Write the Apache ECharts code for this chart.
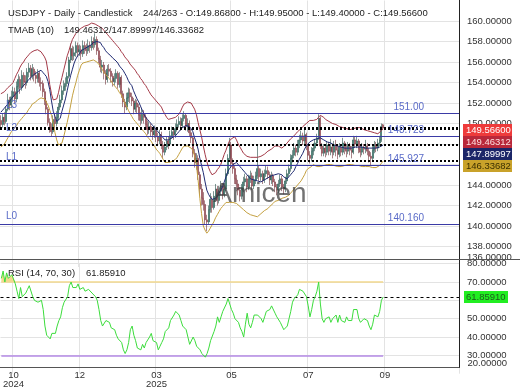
<!DOCTYPE html>
<html><head><meta charset="utf-8">
<script src="https://cdn.jsdelivr.net/npm/echarts@6/dist/echarts.min.js"></script>
<style>html,body{margin:0;padding:0;background:#fff}#c{width:520px;height:390px}</style>
</head><body><div id="c"></div>
<script>
// ---------- data ----------
const slotCount = 263;
const tickIndex = [7, 45, 89, 132, 176, 220];
const tickLabels = ['10\n2024', '12', '03\n2025', '05', '07', '09'];

const openP = [
150.3,149.9,150.6,150.2,151.4,152.3,151.8,152.6,153.1,152.4,
153.6,154.3,153.5,154.7,154.1,154.0,155.0,155.4,154.6,155.3,
154.7,154.4,154.9,154.0,153.9,153.1,152.2,151.4,150.1,149.6,
149.2,150.4,150.0,150.6,151.6,152.3,153.2,153.6,153.9,154.6,
156.2,157.3,156.6,156.9,157.6,157.0,157.2,156.8,157.6,157.3,
157.1,157.6,157.4,158.0,157.7,158.2,157.1,156.3,155.5,155.7,
154.9,154.3,155.3,155.1,154.6,154.1,154.4,154.9,153.8,154.5,
152.9,152.1,151.6,152.5,153.0,152.6,152.2,151.4,152.0,151.6,
150.8,150.3,150.9,150.6,149.9,149.4,149.7,149.2,148.9,149.3,
148.7,148.3,148.9,147.9,147.2,147.7,148.3,148.0,148.8,149.2,
148.9,149.5,149.9,150.2,149.8,150.5,150.8,149.7,150.0,149.1,
148.6,147.1,146.2,146.6,145.0,143.6,142.7,142.1,140.6,140.4,
141.6,142.6,141.8,142.9,143.6,142.5,143.4,143.9,143.1,143.6,
145.1,146.6,147.9,146.1,145.6,144.6,144.1,143.5,142.9,143.6,
144.3,144.6,143.8,144.6,144.9,143.9,144.5,144.9,145.6,144.8,
145.1,144.5,145.1,145.4,145.0,144.5,144.9,144.3,143.8,143.5,
144.1,144.6,143.8,143.6,144.4,145.1,145.6,146.6,146.9,147.6,
147.2,147.9,148.4,148.8,148.3,148.9,147.8,146.9,146.6,147.3,
147.6,148.1,148.6,150.5,147.8,147.1,147.6,147.2,147.9,147.3,
147.7,147.2,147.9,147.4,147.0,147.7,147.2,148.1,147.5,147.3,
147.8,147.4,147.2,148.4,148.0,148.3,147.5,147.2,147.7,147.5,
147.8,147.3,146.8,146.6,147.4,147.9,147.6,148.1,148.4,149.868];
const closeP = [
149.9,150.6,150.2,151.4,152.3,151.8,152.6,153.1,152.4,153.6,
154.3,153.5,154.7,154.1,154.0,155.0,155.4,154.6,155.3,154.7,
154.4,154.9,154.0,153.9,153.1,152.2,151.4,150.1,149.6,149.2,
150.4,150.0,150.6,151.6,152.3,153.2,153.6,153.9,154.6,156.2,
157.3,156.6,156.9,157.6,157.0,157.2,156.8,157.6,157.3,157.1,
157.6,157.4,158.0,157.7,158.2,157.1,156.3,155.5,155.7,154.9,
154.3,155.3,155.1,154.6,154.1,154.4,154.9,153.8,154.5,152.9,
152.1,151.6,152.5,153.0,152.6,152.2,151.4,152.0,151.6,150.8,
150.3,150.9,150.6,149.9,149.4,149.7,149.2,148.9,149.3,148.7,
148.3,148.9,147.9,147.2,147.7,148.3,148.0,148.8,149.2,148.9,
149.5,149.9,150.2,149.8,150.5,150.8,149.7,150.0,149.1,148.6,
147.1,146.2,146.6,145.0,143.6,142.7,142.1,140.6,140.4,141.6,
142.6,141.8,142.9,143.6,142.5,143.4,143.9,143.1,143.6,145.1,
146.6,147.9,146.1,145.6,144.6,144.1,143.5,142.9,143.6,144.3,
144.6,143.8,144.6,144.9,143.9,144.5,144.9,145.6,144.8,145.1,
144.5,145.1,145.4,145.0,144.5,144.9,144.3,143.8,143.5,144.1,
144.6,143.8,143.6,144.4,145.1,145.6,146.6,146.9,147.6,147.2,
147.9,148.4,148.8,148.3,148.9,147.8,146.9,146.6,147.3,147.6,
148.1,148.6,150.5,147.8,147.1,147.6,147.2,147.9,147.3,147.7,
147.2,147.9,147.4,147.0,147.7,147.2,148.1,147.5,147.3,147.8,
147.4,147.2,148.4,148.0,148.3,147.5,147.2,147.7,147.5,147.8,
147.3,146.8,146.6,147.4,147.9,147.6,148.1,148.4,149.7,149.566];
const lowP = [
149.5,149.6,149.8,150.0,151.2,151.3,151.5,152.2,151.9,152.1,
153.3,152.9,153.2,153.6,153.4,153.7,154.5,154.2,154.3,154.1,
153.9,154.0,153.6,153.2,152.6,151.8,150.9,149.8,149.1,148.7,
149.0,149.5,149.7,150.3,151.3,152.0,152.8,153.2,153.6,154.4,
155.9,156.1,156.2,156.5,156.5,156.6,156.2,156.5,156.8,156.6,
156.8,156.9,157.1,157.2,157.4,156.7,155.9,155.0,154.9,154.3,
153.8,154.0,154.6,154.0,153.6,153.7,154.0,153.4,153.5,152.5,
151.6,151.0,151.3,152.1,152.0,151.7,150.9,151.1,151.0,150.3,
149.8,150.0,150.0,149.4,148.9,149.0,148.7,148.4,148.6,148.2,
147.8,148.0,147.5,146.6,146.9,147.4,147.5,147.8,148.5,148.4,
148.6,149.2,149.6,149.3,149.6,150.2,149.3,149.2,148.7,148.1,
146.7,145.7,145.5,144.5,143.0,142.0,141.5,140.1,139.5,140.1,
141.3,141.3,141.6,142.5,142.0,142.2,143.0,142.6,142.8,143.4,
144.9,146.3,145.7,145.1,144.1,143.6,143.0,142.4,142.6,143.3,
143.9,143.3,143.5,144.2,143.5,143.6,144.1,144.6,144.4,144.4,
144.1,144.2,144.8,144.6,144.0,144.1,143.9,143.3,143.0,143.2,
143.8,143.4,143.1,143.3,144.1,144.8,145.3,146.2,146.6,146.8,
146.9,147.6,148.1,147.9,148.0,147.4,146.4,146.1,146.3,146.9,
147.3,147.8,148.4,147.5,146.8,146.8,146.7,146.9,146.9,146.9,
146.6,146.9,146.8,146.5,146.7,146.8,146.9,147.0,146.7,147.0,
146.9,146.6,147.0,147.6,147.6,147.1,146.7,146.9,147.0,147.1,
146.9,146.2,145.9,146.3,147.1,147.2,147.3,147.8,148.2,149.40];
const highP = [
150.8,151.0,151.1,151.7,152.9,152.6,153.2,153.6,153.5,154.1,
154.8,154.6,155.2,155.0,154.7,155.4,155.9,155.7,155.8,155.5,
155.1,155.3,155.1,154.5,154.2,153.4,152.5,151.6,150.5,150.0,
150.8,150.9,151.2,152.0,152.8,153.7,154.2,154.5,155.0,156.5,
157.8,157.6,157.5,158.0,157.9,157.7,157.6,158.1,158.0,157.8,
158.2,158.0,158.5,158.4,158.8,158.5,157.4,156.6,156.2,156.0,
155.2,155.7,155.8,155.4,154.9,154.9,155.3,155.1,155.0,154.7,
153.2,152.4,153.0,153.5,153.4,153.0,152.5,152.4,152.3,151.9,
151.1,151.4,151.3,150.9,150.3,150.2,150.0,149.6,149.8,149.6,
149.1,149.4,149.2,148.3,148.2,148.7,148.7,149.3,149.7,149.6,
150.0,150.4,150.7,150.6,150.9,151.2,151.0,150.5,150.3,149.5,
148.8,147.5,147.1,146.9,145.3,144.1,143.3,142.5,141.1,142.0,
143.2,142.9,143.4,144.1,143.9,143.9,144.4,144.2,144.2,145.6,
147.0,148.6,148.2,146.6,145.9,145.0,144.5,143.8,144.1,144.8,
145.1,144.9,145.0,145.4,145.2,144.9,145.3,148.0,145.9,145.6,
145.4,145.5,145.9,145.8,145.3,145.3,145.1,144.6,144.1,144.5,
145.0,144.9,144.1,144.8,145.5,146.0,147.0,147.4,148.1,147.9,
148.4,148.9,149.3,149.1,149.4,149.1,148.0,147.3,147.7,148.1,
148.5,149.0,150.9,150.7,148.1,148.0,148.0,148.3,148.2,148.5,
148.0,148.3,148.4,147.8,148.1,148.0,148.6,148.3,148.0,148.2,
148.1,147.8,148.8,148.7,148.8,148.5,147.9,148.1,148.0,148.4,
148.1,147.6,147.2,147.8,148.3,148.2,148.5,148.8,150.0,149.95];

const tmaUpper = [
152.9,153.0,153.1,153.3,153.5,153.6,153.8,154.0,154.4,154.8,
155.1,155.5,155.8,156.0,156.3,156.5,156.7,156.9,157.0,157.1,
157.2,157.2,157.1,157.0,156.9,156.5,156.1,155.1,153.8,152.9,
152.3,152.3,152.4,153.0,153.8,154.5,155.2,155.9,156.6,157.1,
157.7,158.2,158.5,158.8,159.0,159.1,159.3,159.4,159.5,159.6,
159.6,159.7,159.8,159.8,159.7,159.6,159.5,159.5,159.3,159.1,
158.9,158.7,158.5,158.3,158.1,157.9,157.7,157.5,157.3,157.0,
156.8,156.5,156.3,156.1,155.8,155.6,155.4,155.2,154.9,154.7,
154.4,154.2,153.9,153.7,153.4,153.1,152.8,152.6,152.4,152.2,
152.0,151.8,151.6,151.2,150.9,150.6,150.4,150.4,150.5,150.5,
150.6,150.6,150.9,151.2,151.6,151.9,152.0,152.1,152.2,152.0,
151.7,151.4,150.9,150.1,149.4,148.7,147.8,147.0,146.3,145.7,
145.3,145.0,145.0,145.2,145.5,145.7,146.0,146.5,147.0,147.4,
147.9,148.3,148.5,148.6,148.7,148.4,148.0,147.7,147.4,147.1,
147.0,146.8,146.7,146.7,146.7,146.7,146.7,146.7,146.7,146.8,
146.9,147.0,147.1,147.3,147.4,147.5,147.6,147.8,147.9,147.8,
147.7,147.6,147.7,147.9,148.1,148.3,148.5,148.6,148.8,149.0,
149.2,149.3,149.5,149.7,149.8,150.0,150.1,150.3,150.3,150.3,
150.4,150.4,150.6,150.8,150.7,150.6,150.4,150.3,150.2,150.1,
150.0,149.9,149.9,149.8,149.7,149.7,149.6,149.6,149.5,149.5,
149.4,149.4,149.5,149.5,149.6,149.6,149.6,149.5,149.4,149.4,
149.3,149.2,149.2,149.1,149.1,149.0,149.0,149.1,149.3,149.46312];
const tmaMid = [
151.1,151.3,151.5,151.7,151.9,152.2,152.4,152.6,152.8,153.0,
153.1,153.3,153.5,153.6,153.9,154.1,154.3,154.4,154.6,154.8,
154.9,155.0,155.1,155.2,155.0,154.8,154.6,154.1,153.3,152.2,
151.2,150.7,150.2,150.3,150.5,151.2,151.8,152.4,153.2,154.0,
154.7,155.3,155.9,156.3,156.6,156.8,157.1,157.2,157.3,157.4,
157.5,157.6,157.7,157.9,158.0,158.0,157.9,157.9,157.6,157.4,
157.1,156.9,156.8,156.6,156.4,156.3,156.1,155.9,155.6,155.4,
155.2,154.9,154.6,154.2,153.9,153.7,153.2,152.8,152.4,152.1,
151.7,151.3,150.9,150.6,150.4,150.2,150.0,149.8,149.6,149.4,
149.3,149.0,148.8,148.6,148.4,148.3,148.4,148.5,148.6,148.7,
148.8,149.0,149.2,149.4,149.6,149.7,149.8,149.8,149.7,149.5,
149.2,148.6,148.1,147.5,146.6,145.9,145.2,144.3,143.5,143.1,
142.8,142.6,142.5,142.7,142.9,143.2,143.5,143.8,144.3,144.8,
145.3,145.6,145.8,146.0,146.1,146.2,146.0,145.8,145.6,145.5,
145.2,145.0,144.8,144.6,144.5,144.5,144.4,144.4,144.3,144.3,
144.4,144.5,144.6,144.7,144.8,144.9,145.0,145.0,145.1,145.1,
145.1,145.0,144.8,144.7,144.6,144.8,145.0,145.2,145.4,145.8,
146.1,146.5,146.8,147.1,147.5,147.8,148.0,148.2,148.3,148.4,
148.5,148.5,148.6,148.6,148.5,148.4,148.3,148.2,148.2,148.1,
148.0,147.9,147.8,147.8,147.7,147.7,147.7,147.6,147.6,147.6,
147.6,147.6,147.6,147.7,147.7,147.7,147.7,147.7,147.7,147.6,
147.6,147.6,147.6,147.6,147.6,147.6,147.7,147.7,147.8,147.89997];
const tmaLower = [
147.7,147.8,148.0,148.3,148.6,148.9,149.2,149.4,149.6,149.8,
150.1,150.3,150.5,150.7,150.9,151.1,151.4,151.6,151.9,152.0,
152.1,152.3,152.4,152.5,152.6,152.4,152.1,151.8,151.3,150.8,
150.0,149.1,148.4,147.9,147.9,148.1,148.7,149.4,150.1,150.9,
151.8,152.7,153.4,154.0,154.7,155.2,155.7,155.9,155.9,156.0,
156.0,156.1,156.1,156.2,156.2,156.0,155.8,155.6,155.3,155.0,
154.8,154.6,154.4,154.2,153.9,153.7,153.5,153.3,153.0,152.8,
152.4,152.0,151.7,151.3,151.0,150.7,150.4,150.2,150.0,149.8,
149.6,149.4,149.2,149.0,148.7,148.5,148.3,148.0,147.8,147.5,
147.3,147.1,146.8,146.5,146.2,146.1,146.2,146.3,146.3,146.4,
146.5,146.7,147.0,147.3,147.6,147.8,147.9,147.8,147.7,147.6,
147.4,146.8,146.0,144.5,142.7,141.2,140.0,139.6,139.3,139.5,
139.8,140.1,140.4,140.8,141.1,141.4,141.7,141.9,142.1,142.3,
142.3,142.3,142.3,142.3,142.2,142.2,142.1,141.9,141.8,141.6,
141.5,141.3,141.2,141.1,141.0,141.0,140.9,140.9,141.0,141.2,
141.3,141.5,141.6,141.7,141.9,142.0,142.2,142.4,142.5,142.5,
142.6,142.7,142.7,142.8,142.8,143.0,143.2,143.4,143.6,143.8,
144.0,144.2,144.4,144.7,145.0,145.4,145.6,145.7,145.8,146.0,
145.9,145.8,145.8,145.8,145.9,145.9,146.0,146.0,146.0,146.0,
145.9,145.9,145.8,145.8,145.8,145.8,145.9,145.9,145.9,146.0,
146.0,146.0,146.0,145.9,145.9,145.9,145.8,145.8,145.8,145.8,
145.8,145.8,145.7,145.7,145.7,145.7,145.8,145.9,146.1,146.33682];

const rsi = [
72,76,70,75,72,71,74,75,69,65,
61,67,62,61,64,66,68,69,62,60,
60,59,58,60,55,46,41,40,39,42,
43,42,46,49,51,56,59,60,62,68,
70,67,68,67,69,66,67,67,65,65,
66,65,64,63,62,60,55,49,46,47,
49,50,48,45,45,44,41,39,38,37,
33,31,33,37,44,46,41,38,34,34,
33,36,34,37,36,40,42,38,39,37,
33,35,37,39,43,42,45,49,48,52,
54,54,52,49,46,45,44,40,36,37,
40,38,35,34,33,31,30,29,31,34,
38,39,43,46,51,48,51,54,53,58,
61,58,55,53,50,51,48,45,43,40,
47,53,47,45,48,52,53,52,51,50,
48,51,54,53,55,57,56,53,51,50,
48,46,44,44,46,50,54,59,61,60,
63,66,66,65,66,62,57,51,55,60,
62,65,70,58,50,48,50,49,51,48,
50,49,52,48,52,49,50,48,51,49,
50,49,55,54,55,50,48,49,50,50,
49,46,44,47,52,53,51,54,60,61.8591];
const rsiOverbought = [72,76,70,75,72,71,74,75,70];

const levelValues = [151.00, 148.723, 145.927, 140.160];
const levelNames = ['L3', 'L2', 'L1', 'L0'];
const levelTexts = ['151.00', '148.723', '145.927', '140.160'];

const lastClose = 149.566;
const bandLast = [149.46312, 147.89997, 146.33682];
const rsiLast = 61.8591;
const rsiLevels = [70, 30];
const rsiAxisMin = 20;

const headerMain = 'USDJPY - Daily - Candlestick';
const headerOHLC = '244/263 - O:149.86800 - H:149.95000 - L:149.40000 - C:149.56600';
const headerTma = 'TMAB (10)';
const headerTmaVals = '149.46312/147.89997/146.33682';
const headerRsi = 'RSI (14, 70, 30)';
const headerRsiVal = '61.85910';
const watermark = 'Amicen';

// ---------- chart ----------
const FONT = '"Liberation Sans", Arial, sans-serif';
const FS = 9.5;
const gridCol = '#e3e3e3';
const levelCol = '#3b3ba6';
const levelTextCol = '#5a6bc8';
const cats = Array.from({length: slotCount}, (_, i) => String(i));
const tickMap = new Map(tickIndex.map((k, j) => [k, tickLabels[j]]));
const showTick = (idx) => tickMap.has(idx);
const candleData = openP.map((o, i) => [o, closeP[i], lowP[i], highP[i]]);

const priceSplit = [];
for (let v = 136; v <= 162; v += 2) priceSplit.push(v === 136 || v === 162 ? 'transparent' : gridCol);
const rsiSplit = ['transparent', gridCol, gridCol, gridCol, gridCol, gridCol, gridCol];

const lvlLines = levelValues.map((v, k) => ({
  yAxis: v, lineStyle: {color: levelCol, width: 1, type: 'solid'},
  label: {show: true, position: 'insideEndTop', formatter: levelTexts[k], distance: [35, 1],
          color: levelTextCol, fontSize: 10, fontFamily: FONT}
}));
const lvlNameLines = levelValues.map((v, k) => ({
  yAxis: v, lineStyle: {color: levelCol, width: 1, type: 'solid'},
  label: {show: true, position: 'insideStartTop', formatter: levelNames[k], distance: [6, 3],
          color: levelTextCol, fontSize: 10, fontFamily: FONT}
}));
const dashLines = [lastClose, ...bandLast].map(v => ({
  yAxis: v, lineStyle: {color: '#000', width: 2, type: [2, 2]}, label: {show: false}
}));

const chart = echarts.init(document.getElementById('c'));
const option = {
  animation: false,
  textStyle: {fontFamily: FONT},
  grid: [
    {left: 0, right: 61, top: 0.5, height: 266.5},
    {left: 0, right: 61, top: 263.7, height: 110}
  ],
  xAxis: [
    {type: 'category', gridIndex: 0, data: cats, boundaryGap: true,
     axisLine: {show: false}, axisTick: {show: false}, axisLabel: {show: false},
     splitLine: {show: true, interval: showTick, lineStyle: {color: gridCol}}},
    {type: 'category', gridIndex: 1, data: cats, boundaryGap: true, offset: -6,
     axisLine: {show: false}, axisTick: {show: false},
     axisLabel: {show: true, interval: showTick, formatter: (v, idx) => tickMap.get(idx) || '',
                 fontSize: FS, color: '#333', lineHeight: 9, margin: 3, fontFamily: FONT},
     splitLine: {show: true, interval: showTick, lineStyle: {color: gridCol}}}
  ],
  yAxis: [
    {type: 'value', gridIndex: 0, position: 'right', min: 136, max: 162, interval: 2,
     axisLine: {show: false}, axisTick: {show: false},
     axisLabel: {margin: 8, fontSize: FS, color: '#333', fontFamily: FONT, showMinLabel: true, hideOverlap: false,
       formatter: v => v > 161 ? '' : (v === 136 ? '{lo|136.00000}' : v.toFixed(5)),
       rich: {lo: {fontSize: FS, color: '#333', fontFamily: FONT, padding: [0, 0, 20, 0]}}},
     splitLine: {show: true, lineStyle: {color: priceSplit}}},
    {type: 'value', gridIndex: 1, position: 'right', min: rsiAxisMin, max: 80, interval: 10,
     axisLine: {show: false}, axisTick: {show: false},
     axisLabel: {margin: 8, fontSize: FS, color: '#333', fontFamily: FONT, hideOverlap: false,
       formatter: v => v === rsiAxisMin ? '' : v.toFixed(5)},
     splitLine: {show: true, lineStyle: {color: rsiSplit}}}
  ],
  series: [
    {type: 'candlestick', xAxisIndex: 0, yAxisIndex: 0, data: candleData, barWidth: 1.5, z: 3,
     itemStyle: {color: '#3aa890', color0: '#e07080', borderColor: '#264e48', borderColor0: '#6e3038', borderWidth: 0.6},
     markLine: {silent: true, symbol: ['none', 'none'], animation: false,
                data: [...lvlLines, ...lvlNameLines, ...dashLines]}},
    {type: 'line', xAxisIndex: 0, yAxisIndex: 0, data: tmaUpper, showSymbol: false, z: 4,
     lineStyle: {color: '#a43a48', width: 1}},
    {type: 'line', xAxisIndex: 0, yAxisIndex: 0, data: tmaMid, showSymbol: false, z: 4,
     lineStyle: {color: '#1f2a72', width: 1}},
    {type: 'line', xAxisIndex: 0, yAxisIndex: 0, data: tmaLower, showSymbol: false, z: 4,
     lineStyle: {color: '#c4a040', width: 1}},
    {type: 'line', xAxisIndex: 1, yAxisIndex: 1, data: rsiOverbought, showSymbol: false, z: 2,
     lineStyle: {width: 0}, areaStyle: {origin: 70, color: '#f2d98e', opacity: 1}},
    {type: 'line', xAxisIndex: 1, yAxisIndex: 1, data: rsi, showSymbol: false, z: 5,
     lineStyle: {color: '#3bdc3b', width: 1},
     markLine: {silent: true, symbol: ['none', 'none'], animation: false, label: {show: false},
       data: [
         [{coord: ['0', rsiLevels[0]], lineStyle: {color: '#f2d98e', width: 1.5, type: 'solid'}}, {coord: [String(rsi.length - 1), rsiLevels[0]]}],
         [{coord: ['0', rsiLevels[1]], lineStyle: {color: '#b58ae6', width: 1.5, type: 'solid'}}, {coord: [String(rsi.length - 1), rsiLevels[1]]}],
         {yAxis: rsiLast, lineStyle: {color: '#000', width: 1, type: [3, 3]}}
       ]}}
  ]
};
chart.setOption(option);

// ---------- graphic overlays ----------
const txt = (text, x, y, extra) => ({type: 'text', x, y, silent: true, z: 100,
  style: Object.assign({text, fill: '#222', fontSize: FS, fontFamily: FONT, verticalAlign: 'middle'}, extra || {})});
const g = [];
g.push(txt(headerMain, 8, 13));
g.push(txt(headerOHLC, 143, 13));
g.push(txt(headerTma, 8, 30));
g.push(txt(headerTmaVals, 64, 30));
g.push(txt(headerRsi, 8, 273));
g.push(txt(headerRsiVal, 86, 273));
g.push({type: 'text', x: 260, y: 194, silent: true, z: 50,
  style: {text: watermark, fill: 'rgba(60,60,60,0.72)', fontSize: 28, fontFamily: FONT, align: 'center', verticalAlign: 'middle'}});
// frame
g.push({type: 'line', silent: true, z: 90, shape: {x1: 459.5, y1: 0, x2: 459.5, y2: 368}, style: {stroke: '#222', lineWidth: 1}});
g.push({type: 'line', silent: true, z: 90, shape: {x1: 0, y1: 259.5, x2: 520, y2: 259.5}, style: {stroke: '#555', lineWidth: 1}});
g.push({type: 'line', silent: true, z: 90, shape: {x1: 0, y1: 367.5, x2: 459.5, y2: 367.5}, style: {stroke: '#555', lineWidth: 1}});
// RSI axis minimum label, kept inside the panel (clamped above the panel bottom)
const minY = chart.convertToPixel({yAxisIndex: 1}, rsiAxisMin);
g.push(txt(rsiAxisMin.toFixed(5), 467.5, Math.min(minY, 363), {fill: '#333'}));
// price tags
const tagVals = [lastClose, ...bandLast];
const tagBg = ['#ee3b3b', '#b9283a', '#1c2668', '#c9a22a'];
const tagFg = ['#ffffff', '#ffe0e0', '#ffffff', '#3b2f00'];
let prev = -1e9;
tagVals.forEach((v, k) => {
  let y = Math.max(chart.convertToPixel({yAxisIndex: 0}, v) + 2, prev + 12);
  prev = y;
  g.push({type: 'rect', silent: true, z: 95, shape: {x: 463, y: y - 6, width: 49, height: 12}, style: {fill: tagBg[k]}});
  g.push(txt(v.toFixed(5), 466, y, {fill: tagFg[k]}));
});
const ry = chart.convertToPixel({yAxisIndex: 1}, rsiLast);
g.push({type: 'rect', silent: true, z: 95, shape: {x: 464, y: ry - 6, width: 44, height: 12}, style: {fill: '#22ee22'}});
g.push(txt(rsiLast.toFixed(5), 466, ry, {fill: '#1d5a1d'}));
chart.setOption({graphic: g});
</script>
</body></html>
